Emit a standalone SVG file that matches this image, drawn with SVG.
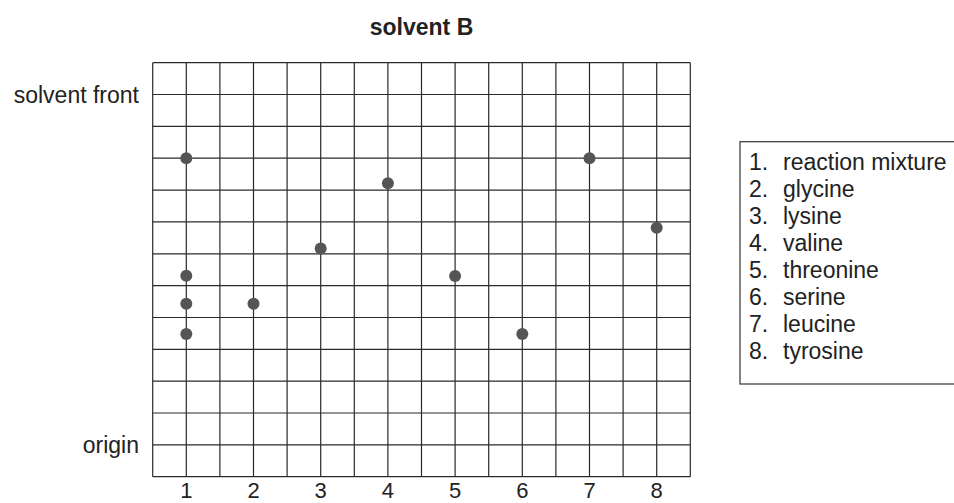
<svg xmlns="http://www.w3.org/2000/svg" width="954" height="503" viewBox="0 0 954 503">
<style>
text{font-family:"Liberation Sans",Arial,sans-serif;font-size:23px;fill:#222}
.title{font-weight:bold}
.g line{stroke:#2a2a2a;stroke-width:1.2}
.thick{stroke:#222;stroke-width:2.6}
.dot{fill:#555}
.box{fill:none;stroke:#333;stroke-width:1.2}
.lane{font-size:22px}
</style>
<rect width="954" height="503" fill="#fff"/>
<text id="title" class="title" x="421.5" y="35" text-anchor="middle">solvent B</text>
<g id="grid" class="g">
<line x1="152.7" y1="62.7" x2="152.7" y2="476.7"/>
<line x1="186.3" y1="62.7" x2="186.3" y2="476.7"/>
<line x1="219.9" y1="62.7" x2="219.9" y2="476.7"/>
<line x1="253.5" y1="62.7" x2="253.5" y2="476.7"/>
<line x1="287.1" y1="62.7" x2="287.1" y2="476.7"/>
<line x1="320.7" y1="62.7" x2="320.7" y2="476.7"/>
<line x1="354.3" y1="62.7" x2="354.3" y2="476.7"/>
<line x1="387.9" y1="62.7" x2="387.9" y2="476.7"/>
<line x1="421.5" y1="62.7" x2="421.5" y2="476.7"/>
<line x1="455.1" y1="62.7" x2="455.1" y2="476.7"/>
<line x1="488.7" y1="62.7" x2="488.7" y2="476.7"/>
<line x1="522.3" y1="62.7" x2="522.3" y2="476.7"/>
<line x1="555.9" y1="62.7" x2="555.9" y2="476.7"/>
<line x1="589.5" y1="62.7" x2="589.5" y2="476.7"/>
<line x1="623.1" y1="62.7" x2="623.1" y2="476.7"/>
<line x1="656.7" y1="62.7" x2="656.7" y2="476.7"/>
<line x1="690.3" y1="62.7" x2="690.3" y2="476.7"/>
<line x1="152.7" y1="62.7" x2="690.3" y2="62.7"/>
<line x1="152.7" y1="126.4" x2="690.3" y2="126.4"/>
<line x1="152.7" y1="158.2" x2="690.3" y2="158.2"/>
<line x1="152.7" y1="190.1" x2="690.3" y2="190.1"/>
<line x1="152.7" y1="221.9" x2="690.3" y2="221.9"/>
<line x1="152.7" y1="253.8" x2="690.3" y2="253.8"/>
<line x1="152.7" y1="285.6" x2="690.3" y2="285.6"/>
<line x1="152.7" y1="317.5" x2="690.3" y2="317.5"/>
<line x1="152.7" y1="349.3" x2="690.3" y2="349.3"/>
<line x1="152.7" y1="381.2" x2="690.3" y2="381.2"/>
<line x1="152.7" y1="413" x2="690.3" y2="413"/>
<line x1="152.7" y1="476.7" x2="690.3" y2="476.7"/>
<line class="thick" x1="152.7" y1="94.5" x2="690.3" y2="94.5"/>
<line class="thick" x1="152.7" y1="444.9" x2="690.3" y2="444.9"/>
</g>
<g id="axis-labels">
<text x="139" y="102.5" text-anchor="end">solvent front</text>
<text x="139" y="452.5" text-anchor="end">origin</text>
</g>
<g id="lane-labels" text-anchor="middle">
<text class="lane" x="186.3" y="498">1</text>
<text class="lane" x="253.5" y="498">2</text>
<text class="lane" x="320.7" y="498">3</text>
<text class="lane" x="387.9" y="498">4</text>
<text class="lane" x="455.1" y="498">5</text>
<text class="lane" x="522.3" y="498">6</text>
<text class="lane" x="589.5" y="498">7</text>
<text class="lane" x="656.7" y="498">8</text>
</g>
<g id="spots">
<circle class="dot" cx="186.3" cy="158.2" r="6"/>
<circle class="dot" cx="186.3" cy="275.7" r="6"/>
<circle class="dot" cx="186.3" cy="303.7" r="6"/>
<circle class="dot" cx="186.3" cy="334" r="6"/>
<circle class="dot" cx="253.5" cy="303.7" r="6"/>
<circle class="dot" cx="320.7" cy="248.5" r="6"/>
<circle class="dot" cx="387.9" cy="183.3" r="6"/>
<circle class="dot" cx="455.1" cy="276" r="6"/>
<circle class="dot" cx="522.3" cy="334" r="6"/>
<circle class="dot" cx="589.5" cy="158.2" r="6"/>
<circle class="dot" cx="656.7" cy="227.7" r="6"/>
</g>
<g id="legend">
<rect class="box" x="740" y="141.7" width="230" height="242.3"/>
<text x="749" y="170">1.</text><text x="783" y="170">reaction mixture</text>
<text x="749" y="197">2.</text><text x="783" y="197">glycine</text>
<text x="749" y="224">3.</text><text x="783" y="224">lysine</text>
<text x="749" y="251">4.</text><text x="783" y="251">valine</text>
<text x="749" y="278">5.</text><text x="783" y="278">threonine</text>
<text x="749" y="305">6.</text><text x="783" y="305">serine</text>
<text x="749" y="332">7.</text><text x="783" y="332">leucine</text>
<text x="749" y="359">8.</text><text x="783" y="359">tyrosine</text>
</g>
</svg>
